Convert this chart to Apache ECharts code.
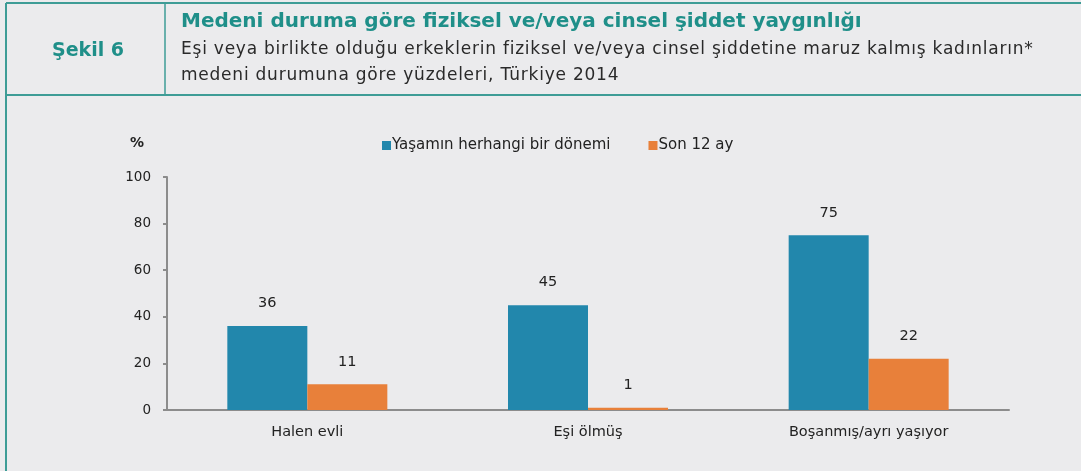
<!DOCTYPE html>
<html>
<head>
<meta charset="utf-8">
<script src="https://cdn.jsdelivr.net/npm/echarts@6/dist/echarts.min.js"></script>
<style>
html,body{margin:0;padding:0;background:#EBEBED;}
#wrap{position:relative;width:1081px;height:471px;}
#chart{position:absolute;left:0;top:0;width:1081px;height:471px;}
.t{position:absolute;font-family:"DejaVu Sans";white-space:nowrap;line-height:1;}
#fig{left:0;width:176px;text-align:center;top:40px;font-size:19px;font-weight:bold;color:#1F8F89;}
#title{left:181px;top:10px;font-size:20px;font-weight:bold;color:#1F8F89;letter-spacing:0px;}
#sub1{left:181px;top:40px;font-size:17px;color:#2a2a2a;letter-spacing:0.77px;}
#sub2{left:181px;top:66px;font-size:17px;color:#2a2a2a;letter-spacing:0.77px;}
</style>
</head>
<body>
<div id="wrap">
<div id="chart"></div>
<div class="t" id="fig"></div>
<div class="t" id="title"></div>
<div class="t" id="sub1"></div>
<div class="t" id="sub2"></div>
</div>
<script>
const categories = ['Halen evli', 'Eşi ölmüş', 'Boşanmış/ayrı yaşıyor'];
const seriesNames = ['Yaşamın herhangi bir dönemi', 'Son 12 ay'];
const lifetimeValues = [36, 45, 75];
const last12Values = [11, 1, 22];
const yTicks = [0, 20, 40, 60, 80, 100];
const figureLabel = 'Şekil 6';
const titleText = 'Medeni duruma göre fiziksel ve/veya cinsel şiddet yaygınlığı';
const subtitleLines = ['Eşi veya birlikte olduğu erkeklerin fiziksel ve/veya cinsel şiddetine maruz kalmış kadınların*', 'medeni durumuna göre yüzdeleri, Türkiye 2014'];

document.getElementById('fig').textContent = figureLabel;
document.getElementById('title').textContent = titleText;
document.getElementById('sub1').textContent = subtitleLines[0];
document.getElementById('sub2').textContent = subtitleLines[1];

const FONT = 'DejaVu Sans';
const LINE = '#3E9C96';
const chart = echarts.init(document.getElementById('chart'), null, {renderer: 'canvas'});
chart.setOption({
  backgroundColor: '#EBEBED',
  animation: false,
  textStyle: {fontFamily: FONT},
  graphic: [
    {type: 'line', shape: {x1: 6, y1: 3, x2: 1081, y2: 3}, style: {stroke: LINE, lineWidth: 2}},
    {type: 'line', shape: {x1: 6, y1: 3, x2: 6, y2: 471}, style: {stroke: LINE, lineWidth: 2}},
    {type: 'line', shape: {x1: 165, y1: 3, x2: 165, y2: 95}, style: {stroke: LINE, lineWidth: 1.5}},
    {type: 'line', shape: {x1: 6, y1: 95, x2: 1081, y2: 95}, style: {stroke: LINE, lineWidth: 2}},
    {type: 'text', x: 137, y: 143, style: {text: '%', fill: '#222', font: 'bold 14px "' + FONT + '"', align: 'center', verticalAlign: 'middle'}}
  ],
  legend: {
    top: 133,
    left: 377,
    itemWidth: 9,
    itemHeight: 9,
    itemGap: 38,
    icon: 'rect',
    textStyle: {fontFamily: FONT, fontSize: 15, color: '#222', padding: [0, 0, 0, -4]},
    data: seriesNames
  },
  grid: {left: 167, right: 72, top: 177, bottom: 61, containLabel: false},
  xAxis: {
    type: 'category',
    data: categories,
    axisLine: {lineStyle: {color: '#8C8C8C', width: 2}},
    axisTick: {show: false},
    axisLabel: {fontFamily: FONT, fontSize: 14.5, color: '#222', margin: 15}
  },
  yAxis: {
    type: 'value',
    min: 0, max: 100, interval: 20,
    axisLine: {show: true, lineStyle: {color: '#8C8C8C', width: 2}},
    axisTick: {show: true, length: 4, lineStyle: {color: '#8C8C8C', width: 2}},
    splitLine: {show: false},
    axisLabel: {fontFamily: FONT, fontSize: 13.5, color: '#222', margin: 16,
      formatter: v => yTicks.includes(v) ? String(v) : ''}
  },
  series: [
    {name: seriesNames[0], type: 'bar', data: lifetimeValues, barWidth: 80, barGap: '0%',
      itemStyle: {color: '#2287AC'},
      label: {show: true, position: 'top', distance: 15, fontFamily: FONT, fontSize: 14.5, color: '#222'}},
    {name: seriesNames[1], type: 'bar', data: last12Values, barWidth: 80, barGap: '0%',
      itemStyle: {color: '#E8803A'},
      label: {show: true, position: 'top', distance: 15, fontFamily: FONT, fontSize: 14.5, color: '#222'}}
  ]
});
</script>
</body>
</html>
